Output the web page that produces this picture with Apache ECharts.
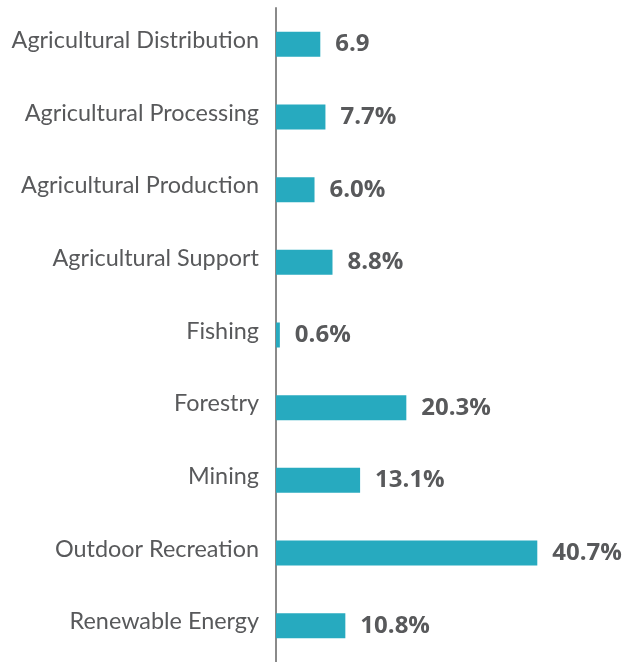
<!DOCTYPE html>
<html><head><meta charset="utf-8">
<script src="https://cdn.jsdelivr.net/npm/echarts@6/dist/echarts.min.js"></script>
<style>html,body{margin:0;padding:0;background:#fff}#c{width:634px;height:662px}</style>
</head><body><div id="c"></div>
<script>
const categories = ["Agricultural Distribution","Agricultural Processing","Agricultural Production","Agricultural Support","Fishing","Forestry","Mining","Outdoor Recreation","Renewable Energy"];
const values = [6.9, 7.7, 6.0, 8.8, 0.6, 20.3, 13.1, 40.7, 10.8];
const labels = ["6.9","7.7%","6.0%","8.8%","0.6%","20.3%","13.1%","40.7%","10.8%"];

const chart = echarts.init(document.getElementById('c'));
chart.setOption({
  animation:false,
  grid:{left:276, top:8, width:321, height:655, containLabel:false},
  xAxis:{type:'value', min:0, max:50, show:false},
  yAxis:{type:'category', data:categories, inverse:true,
    axisLine:{show:true, lineStyle:{color:'#8a8a8a', width:2}},
    axisTick:{show:false},
    axisLabel:{margin:17, fontFamily:'Lato', fontSize:23.4, color:'#58595b', verticalAlign:'bottom', lineHeight:8}},
  series:[{type:'bar', data:values, barWidth:25, itemStyle:{color:'#27aabf'},
    label:{show:true, position:'right', distance:15, fontFamily:'Open Sans', fontWeight:'bold', fontSize:24, color:'#58595b',
      formatter:p=>labels[p.dataIndex]}}]
});
</script></body></html>
